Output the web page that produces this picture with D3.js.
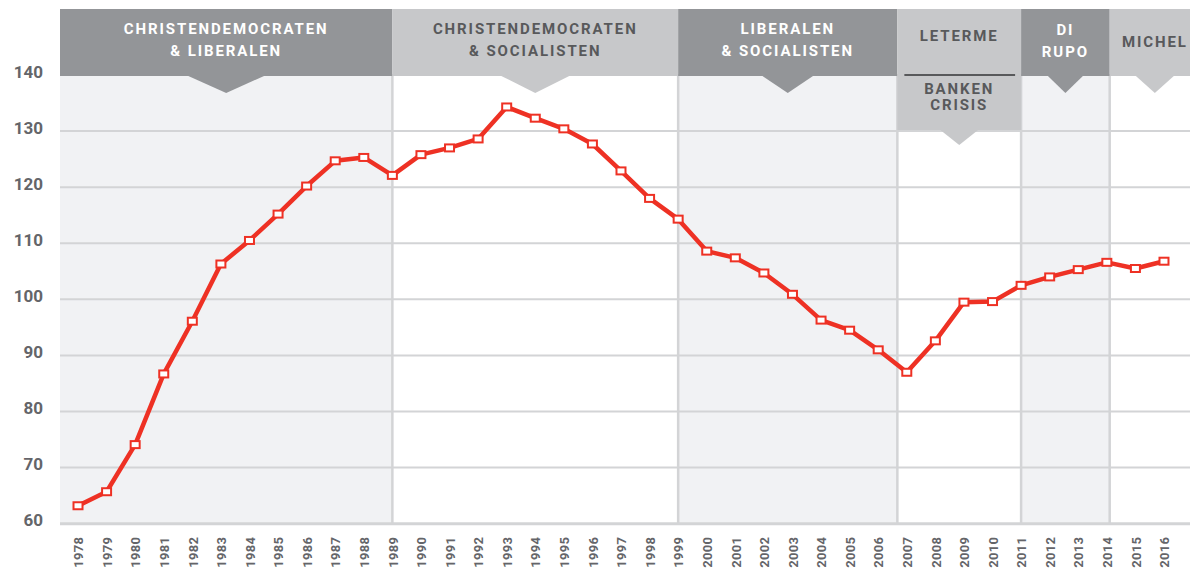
<!DOCTYPE html>
<html>
<head>
<meta charset="utf-8">
<script src="https://cdn.jsdelivr.net/npm/d3@7"></script>
<style>
  body { margin: 0; background: #fff; }
  svg { display: block; font-family: Roboto, "DejaVu Sans", sans-serif; }
</style>
</head>
<body>
<div id="chart"></div>
<script>
// index (1978 = 100-ish) per year
const years = [1978, 1979, 1980, 1981, 1982, 1983, 1984, 1985, 1986, 1987, 1988, 1989,
  1990, 1991, 1992, 1993, 1994, 1995, 1996, 1997, 1998, 1999, 2000, 2001, 2002, 2003,
  2004, 2005, 2006, 2007, 2008, 2009, 2010, 2011, 2012, 2013, 2014, 2015, 2016]
const values = [63.2, 65.7, 74.1, 86.7, 96.1, 106.3, 110.5, 115.2, 120.2, 124.7, 125.3, 122.1,
  125.8, 127.0, 128.6, 134.3, 132.3, 130.4, 127.7, 122.9, 118.0, 114.3, 108.6, 107.4, 104.7, 100.9,
  96.3, 94.5, 91.0, 87.0, 92.6, 99.5, 99.6, 102.5, 104.0, 105.3, 106.6, 105.5, 106.8]

const yTicks = [60, 70, 80, 90, 100, 110, 120, 130, 140]

// government periods
const periodLabels = [
  ["CHRISTENDEMOCRATEN", "& LIBERALEN"],
  ["CHRISTENDEMOCRATEN", "& SOCIALISTEN"],
  ["LIBERALEN", "& SOCIALISTEN"],
  ["LETERME"],
  ["DI", "RUPO"],
  ["MICHEL"]
]
const periodBreaks = [1989, 1999, 2006.67, 2011, 2014.1]
const crisisLabel = ["BANKEN", "CRISIS"]

const W = 1190, H = 569
const plotLeft = 60, plotRight = 1190, plotTop = 75, plotBottom = 523.7
const bannerTop = 9, bannerBottom = 76

const x = d3.scaleLinear().domain([1977.37, 2016.91]).range([plotLeft, plotRight])
const y = d3.scaleLinear().domain([60, 140]).range([plotBottom, plotTop])

const svg = d3.select("#chart").append("svg")
  .attr("width", W)
  .attr("height", H)

// last period runs on a bit past the right edge of the picture
const edges = [x.domain()[0], ...periodBreaks, 2017.26]
const periods = periodLabels.map((lines, i) => ({
  lines, i, x0: x(edges[i]), x1: x(edges[i + 1]), dark: i % 2 === 0
}))

// shaded background
svg.append("g").selectAll("rect")
  .data(periods.filter(p => p.dark))
  .join("rect")
  .attr("x", d => d.x0)
  .attr("y", bannerBottom)
  .attr("width", d => d.x1 - d.x0)
  .attr("height", plotBottom - bannerBottom)
  .attr("fill", "#f1f2f4")

// gridlines
svg.append("g").selectAll("line")
  .data(yTicks)
  .join("line")
  .attr("x1", plotLeft).attr("x2", plotRight)
  .attr("y1", d => y(d)).attr("y2", d => y(d))
  .attr("stroke", "#d3d4d6")
  .attr("stroke-width", d => d === 60 ? 3 : 2)

// period dividers
svg.append("g").selectAll("line")
  .data(periodBreaks)
  .join("line")
  .attr("x1", d => x(d)).attr("x2", d => x(d))
  .attr("y1", bannerBottom).attr("y2", plotBottom)
  .attr("stroke", "#d3d4d6")
  .attr("stroke-width", 2.5)

// y axis labels
const yAxis = d3.axisLeft(y).tickValues(yTicks).tickSize(0).tickPadding(0)
svg.append("g")
  .attr("transform", `translate(43,0)`)
  .call(yAxis)
  .call(g => g.select(".domain").remove())
  .selectAll("text")
  .attr("dy", "0.12em")
  .attr("fill", "#646569")
  .attr("font-family", "Roboto, sans-serif")
  .attr("font-weight", 700)
  .attr("font-size", 17)

// x axis labels (rotated)
const xAxis = d3.axisBottom(x).tickValues(years).tickFormat(d3.format("d")).tickSize(0)
svg.append("g")
  .attr("transform", `translate(0,${plotBottom})`)
  .call(xAxis)
  .call(g => g.select(".domain").remove())
  .selectAll("text")
  .attr("transform", "rotate(-90)")
  .attr("text-anchor", "end")
  .attr("x", -13)
  .attr("y", 0)
  .attr("dy", "0.36em")
  .attr("fill", "#646569")
  .attr("font-family", "Roboto, sans-serif")
  .attr("font-weight", 700)
  .attr("font-size", 13)
  .attr("letter-spacing", 0.3)

// banners
const triHalf = [39, 35, 26, 19.5, 18, 19.5]
const bannerG = svg.append("g")
const bannerText = sel => sel
  .attr("text-anchor", "middle")
  .attr("font-family", "Roboto, sans-serif")
  .attr("font-weight", 700)
  .attr("font-size", 15)
  .attr("letter-spacing", 1.9)

periods.forEach(p => {
  const fill = p.dark ? "#939598" : "#c7c8ca"
  const textFill = p.dark ? "#ffffff" : "#58595b"
  const isLeterme = p.i === 3
  const b = isLeterme ? 130 : bannerBottom
  const cx = (p.x0 + p.x1) / 2
  const h = isLeterme ? 15 : 17
  bannerG.append("rect")
    .attr("x", p.x0).attr("y", bannerTop)
    .attr("width", p.x1 - p.x0).attr("height", b - bannerTop)
    .attr("fill", fill)
  bannerG.append("path")
    .attr("d", `M${cx - triHalf[p.i]},${b - 0.5}L${cx + triHalf[p.i]},${b - 0.5}L${cx},${b + h}Z`)
    .attr("fill", fill)

  let baselines
  if (isLeterme) baselines = [41]
  else if (p.lines.length === 1) baselines = [47]
  else if (p.i === 4) baselines = [35, 57]
  else baselines = [34, 55.5]

  const t = bannerG.append("text").call(bannerText).attr("fill", textFill)
  p.lines.forEach((l, k) => {
    t.append("tspan").attr("x", cx).attr("y", baselines[k]).text(l)
  })

  if (isLeterme) {
    bannerG.append("line")
      .attr("x1", p.x0 + 7).attr("x2", p.x1 - 6)
      .attr("y1", 75).attr("y2", 75)
      .attr("stroke", "#58595b").attr("stroke-width", 2)
    const t2 = bannerG.append("text").call(bannerText).attr("fill", textFill)
    crisisLabel.forEach((l, k) => {
      t2.append("tspan").attr("x", cx).attr("y", [94, 110][k]).text(l)
    })
  }
})

// line + markers
const pts = years.map((yr, i) => [yr, values[i]])
svg.append("path")
  .datum(pts)
  .attr("fill", "none")
  .attr("stroke", "#ee3124")
  .attr("stroke-width", 4.5)
  .attr("stroke-linejoin", "round")
  .attr("d", d3.line().x(d => x(d[0])).y(d => y(d[1])))

svg.append("g").selectAll("rect")
  .data(pts)
  .join("rect")
  .attr("x", d => x(d[0]) - 4.5)
  .attr("y", d => y(d[1]) - 3.5)
  .attr("width", 9)
  .attr("height", 7)
  .attr("fill", "#fff")
  .attr("stroke", "#ee3124")
  .attr("stroke-width", 2)
</script>
</body>
</html>
